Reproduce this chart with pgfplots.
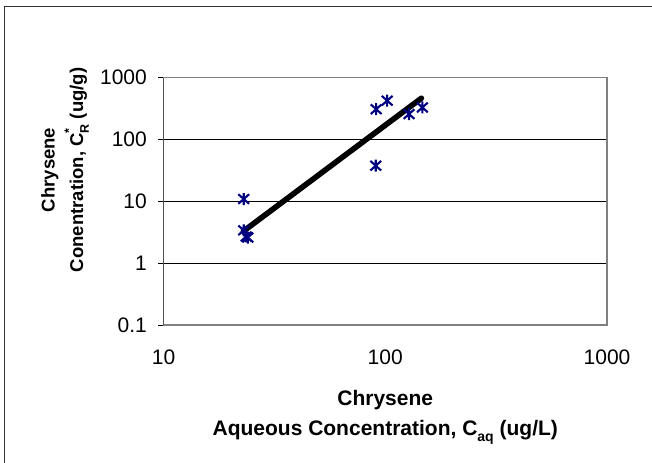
\documentclass[border=0pt]{standalone}
\usepackage{pgfplots}
\pgfplotsset{compat=1.18}
\usepackage{fontspec}
\setmainfont{Liberation Sans}
\definecolor{navy}{RGB}{0,0,128}
\definecolor{pgray}{RGB}{128,128,128}
\pgfdeclareplotmark{xlstar}{%
  \pgfpathmoveto{\pgfqpoint{0pt}{\pgfplotmarksize}}%
  \pgfpathlineto{\pgfqpoint{0pt}{-\pgfplotmarksize}}%
  \pgfpathmoveto{\pgfqpoint{-0.9\pgfplotmarksize}{0.8\pgfplotmarksize}}%
  \pgfpathlineto{\pgfqpoint{0.9\pgfplotmarksize}{-0.8\pgfplotmarksize}}%
  \pgfpathmoveto{\pgfqpoint{-0.9\pgfplotmarksize}{-0.8\pgfplotmarksize}}%
  \pgfpathlineto{\pgfqpoint{0.9\pgfplotmarksize}{0.8\pgfplotmarksize}}%
  \pgfusepathqstroke}
\newcommand{\subsz}{\fontsize{14bp}{14bp}\selectfont}
\newcommand{\subszy}{\fontsize{12.5bp}{12.5bp}\selectfont}
\begin{document}
\begin{tikzpicture}[x=1bp,y=1bp]
\path[use as bounding box] (0,0) rectangle (652,463);
\draw[line width=1.6bp, color=black!80] (4.3,0) -- (4.3,456.3) -- (652,456.3);
\begin{axis}[
  at={(163.5bp,138bp)}, anchor=south west,
  scale only axis, width=443.5bp, height=247.3bp,
  xmode=log, ymode=log,
  xmin=10, xmax=1000, ymin=0.1, ymax=1000,
  axis line style={draw=pgray, line width=1.6bp},
  xtick={10,100,1000}, xticklabels={10,100,1000},
  ytick={0.1,1,10,100,1000}, yticklabels={0.1,1,10,100,1000},
  xminorticks=false, yminorticks=false,
  xtick pos=bottom, ytick pos=left,
  xtick style={draw=none},
  ytick style={black, line width=0.8bp},
  major tick length=5.5bp, tick align=outside,
  ymajorgrids, major grid style={black, line width=0.8bp},
  tick label style={font=\fontsize{21bp}{23bp}\selectfont},
  /pgf/number format/assume math mode=true,
  yticklabel style={anchor=east, inner sep=0pt, xshift=-11bp},
  xticklabel style={anchor=center, inner sep=0pt, yshift=-27bp},
  xlabel={Chrysene\\Aqueous Concentration, C\raisebox{-0.3em}{\subsz aq} (ug/L)},
  xlabel style={at={(axis description cs:0.5,-0.372)}, anchor=center, align=center,
    font=\bfseries\fontsize{21bp}{30bp}\selectfont},
  ylabel={Chrysene\\Conentration, C\rlap{\raisebox{0.55em}{\subszy *}}\raisebox{-0.3em}{\subszy R} (ug/g)},
  ylabel style={at={(axis description cs:-0.222,0.627)}, anchor=center, align=center,
    font=\bfseries\fontsize{18.5bp}{28.5bp}\selectfont},
]
\addplot[only marks, mark=xlstar, mark size=6bp, navy, line width=2.1bp] coordinates {
  (23,10.9) (23,3.4) (23.6,2.7) (24,2.6)
  (90.6,37.7) (91,309) (102,425) (128,258) (147,330)
};
\addplot[black, line width=5.6bp, line cap=round] coordinates {(22.9,3.28) (145.5,465)};
\draw[black, line width=1bp] (rel axis cs:0,0) -- (rel axis cs:0,1);
\end{axis}
\end{tikzpicture}
\end{document}
